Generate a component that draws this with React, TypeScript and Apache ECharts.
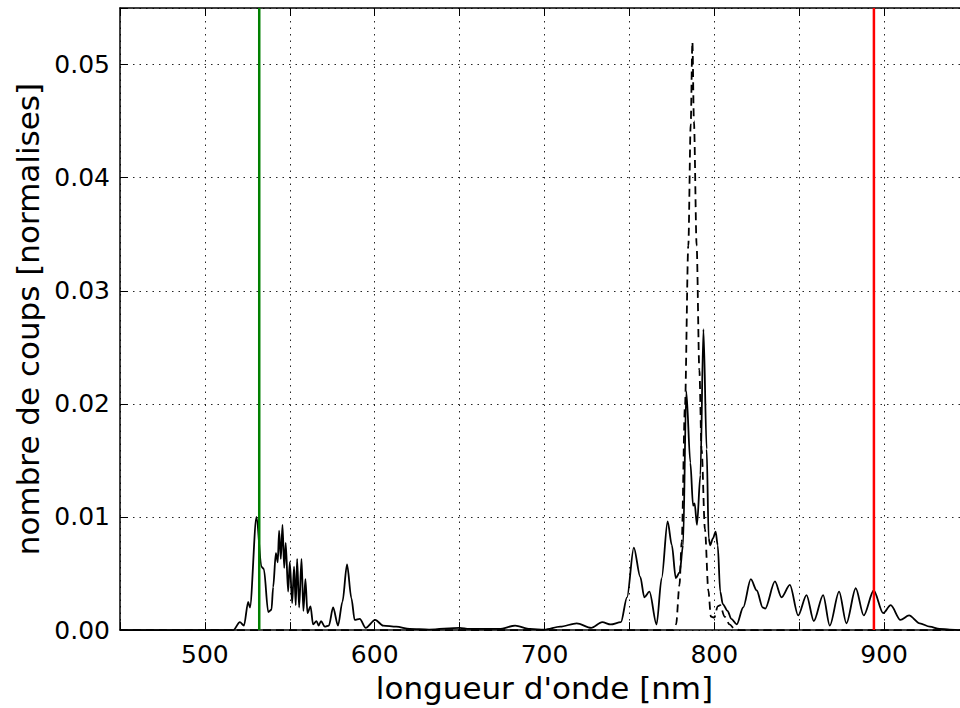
import React, { useEffect, useRef } from "react";
import * as echarts from "echarts";

const solidX = [450, 500, 512, 516.7, 520.6, 523, 525.5, 526.5, 530.4, 533.3, 534.7, 537.3, 539.2, 540.2, 541.8, 542.9, 543.7, 544.7, 545.7, 546.7, 547.6, 549, 550, 551.4, 552.5, 553.5, 554.3, 555.5, 556.9, 558, 559.2, 560.4, 562.2, 563.7, 565.7, 567, 568.4, 570.6, 573, 575.5, 578.4, 581, 583.7, 586.3, 588.2, 591.2, 594.7, 600.3, 605, 612.7, 620.6, 632, 650, 655.6, 673.4, 682.7, 691.5, 700, 709.2, 719, 727.5, 734, 739, 745, 748.6, 752.6, 756.4, 758.8, 761.8, 766, 769, 772.5, 775, 777.3, 779.6, 781.6, 783.5, 785.9, 787.5, 788.4, 789.8, 791.8, 793.6, 795.5, 796.7, 797.6, 799.2, 800.8, 802, 803.5, 805, 807.8, 810, 813.2, 817, 821.5, 825, 828.5, 830, 835.7, 839.6, 844.5, 849.4, 854.3, 858.6, 864.1, 868, 873.5, 877.8, 883.3, 888, 893.9, 899.4, 903.9, 909.6, 914.7, 921, 926.9, 932.7, 938.6, 945, 950];
const solidY = [0, 0, 0, 0, 0.0007, 0.0004, 0.0025, 0.002, 0.01, 0.0056, 0.0054, 0.0016, 0.0018, 0.0038, 0.0068, 0.006, 0.0088, 0.0063, 0.0093, 0.0055, 0.0077, 0.0034, 0.006, 0.0024, 0.0056, 0.0022, 0.0063, 0.002, 0.0063, 0.0017, 0.0045, 0.0015, 0.0021, 0.0005, 0.0008, 0.0004, 0.0008, 0.0003, 0.0004, 0.002, 0.0004, 0.0025, 0.0058, 0.0028, 0.0009, 0.001, 0.0002, 0.0009, 0.0004, 0.0003, 0.0001, 0.00005, 0.0002, 0.0001, 0.0001, 0.0004, 0.0001, 0.00003, 0.0003, 0.0006, 0.0002, 0.0007, 0.0005, 0.0007, 0.0029, 0.0073, 0.0047, 0.0029, 0.0034, 0.0005, 0.0046, 0.0096, 0.0075, 0.0046, 0.0051, 0.0075, 0.0211, 0.0148, 0.011, 0.0112, 0.0093, 0.0137, 0.0266, 0.016, 0.0081, 0.0075, 0.0081, 0.0087, 0.0075, 0.0034, 0.0023, 0.0017, 0.001, 0.0005, 0.002, 0.0045, 0.0035, 0.002, 0.0019, 0.0043, 0.0029, 0.004, 0.0013, 0.0031, 0.0008, 0.0031, 0.0004, 0.0034, 0.0006, 0.0037, 0.0013, 0.0035, 0.0015, 0.0022, 0.0009, 0.0013, 0.0006, 0.0003, 0.0001, 0.00005, 0, 0];

const dashedX = [450, 776, 777.5, 779.5, 780.8, 782.7, 784.7, 786.1, 787.1, 788, 789.6, 791.2, 792.5, 794.5, 796.5, 798, 800, 802, 803.5, 806, 809, 812, 815, 950];
const dashedY = [0, 0, 0.0005, 0.004, 0.0078, 0.0197, 0.034, 0.0447, 0.052, 0.045, 0.034, 0.023, 0.016, 0.0089, 0.0035, 0.0012, 0.0011, 0.0021, 0.0022, 0.0012, 0.0005, 0.0001, 0, 0];

const greenLaser = 532;
const redLaser = 894;

const xMin = 450;
const xMax = 950;
const yMin = 0;
const yMax = 0.055;

const xTitle = "longueur d'onde [nm]";
const yTitle = "nombre de coups [normalises]";

const FONT = "DejaVu Sans";

export default function App() {
  const ref = useRef<HTMLDivElement>(null);
  useEffect(() => {
    if (!ref.current) return;
    const chart = echarts.init(ref.current, undefined, { renderer: "svg" });
    const zip = (xs: number[], ys: number[]) => xs.map((x, i) => [x, ys[i]]);
    const splitStyle = { color: "#000", width: 1, type: [1.5, 5] as any, opacity: 0.85 };
    const every100 = (i: number, v: any) => Number(v) % 100 === 0;
    chart.setOption({
      animation: false,
      backgroundColor: "#fff",
      grid: { left: 120, top: 8, right: 11, bottom: 76, containLabel: false },
      xAxis: [
        {
          type: "value",
          min: xMin,
          max: xMax,
          interval: 50,
          position: "bottom",
          name: xTitle,
          nameLocation: "middle",
          nameGap: 38,
          nameTextStyle: { fontFamily: FONT, fontSize: 31, color: "#000" },
          axisLine: { show: true, onZero: false, lineStyle: { color: "#000", width: 1.5 } },
          axisTick: { show: true, inside: true, length: 8, lineStyle: { color: "#000" }, interval: every100 },
          axisLabel: {
            fontFamily: FONT,
            fontSize: 25,
            color: "#000",
            margin: 12,
            formatter: (v: number) => (v % 100 === 0 && v < 950 ? String(v) : ""),
          },
          splitLine: { show: true, lineStyle: splitStyle, interval: every100 },
        },
        {
          type: "value",
          min: xMin,
          max: xMax,
          interval: 50,
          position: "top",
          axisLine: { show: true, onZero: false, lineStyle: { color: "#000", width: 1.5 } },
          axisTick: { show: true, inside: true, length: 8, lineStyle: { color: "#000" }, interval: every100 },
          axisLabel: { show: false },
          splitLine: { show: false },
        },
      ],
      yAxis: {
        type: "value",
        min: yMin,
        max: yMax,
        interval: 0.01,
        name: yTitle,
        nameLocation: "middle",
        nameGap: 70,
        nameRotate: 90,
        nameTextStyle: { fontFamily: FONT, fontSize: 31, color: "#000" },
        axisLine: { show: true, lineStyle: { color: "#000", width: 1.5 } },
        axisTick: { show: true, inside: true, length: 8, lineStyle: { color: "#000" } },
        axisLabel: {
          fontFamily: FONT,
          fontSize: 25,
          color: "#000",
          margin: 10,
          formatter: (v: number) => (v > 0.0505 ? "" : v.toFixed(2)),
        },
        splitLine: { show: true, lineStyle: splitStyle },
      },
      series: [
        {
          type: "line",
          data: zip(dashedX, dashedY),
          showSymbol: false,
          smooth: 0.3,
          smoothMonotone: "x",
          lineStyle: { color: "#000", width: 1.8, type: [8, 5] },
          z: 3,
        },
        {
          type: "line",
          data: zip(solidX, solidY),
          showSymbol: false,
          smooth: 0.3,
          smoothMonotone: "x",
          lineStyle: { color: "#000", width: 1.8 },
          z: 4,
        },
        {
          type: "line",
          data: [[greenLaser, yMin], [greenLaser, yMax]],
          showSymbol: false,
          lineStyle: { color: "#008000", width: 2.5 },
          z: 5,
        },
        {
          type: "line",
          data: [[redLaser, yMin], [redLaser, yMax]],
          showSymbol: false,
          lineStyle: { color: "#ff0000", width: 2.5 },
          z: 5,
        },
      ],
    });
    return () => chart.dispose();
  }, []);
  return (
    <div style={{ position: "fixed", left: 0, top: 0, width: 960, height: 708, overflow: "hidden", background: "#fff" }}>
      <div ref={ref} style={{ position: "absolute", left: 0, top: 0, width: 980, height: 708 }} />
    </div>
  );
}
